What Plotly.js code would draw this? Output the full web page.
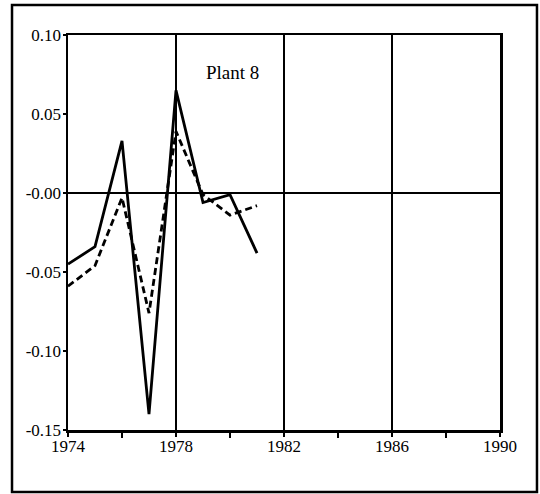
<!DOCTYPE html>
<html>
<head>
<meta charset="utf-8">
<script src="https://cdn.plot.ly/plotly-3.0.1.min.js"></script>
<style>html,body{margin:0;padding:0;background:#fff;}#chart{width:540px;height:494px;}</style>
</head>
<body>
<div id="chart"></div>
<script>
const years = [1974, 1975, 1976, 1977, 1978, 1979, 1980, 1981];
const actual = [-0.045, -0.034, 0.033, -0.140, 0.065, -0.006, -0.001, -0.038];
const fitted = [-0.059, -0.046, -0.003, -0.076, 0.039, -0.001, -0.014, -0.008];
const yTickVals = [0.10, 0.05, 0.00, -0.05, -0.10, -0.15];
const yTickText = ["0.10", "0.05", "-0.00", "-0.05", "-0.10", "-0.15"];
const xTickVals = [1974, 1978, 1982, 1986, 1990];
const panelLabel = "Plant 8";

const font = {family: "Liberation Serif, Times New Roman, serif", size: 17, color: "#000"};

const traces = [
  {x: years, y: actual, type: "scatter", mode: "lines", line: {color: "#000", width: 2.8}, hoverinfo: "skip"},
  {x: years, y: fitted, type: "scatter", mode: "lines", line: {color: "#000", width: 2.8, dash: "7px,4px"}, hoverinfo: "skip"}
];

const layout = {
  width: 540, height: 494,
  margin: {l: 68, r: 40, t: 35, b: 64, pad: 0},
  paper_bgcolor: "#fff", plot_bgcolor: "#fff",
  showlegend: false,
  font: font,
  xaxis: {
    range: [1974, 1990], tickvals: xTickVals, ticktext: xTickVals.map(String),
    showgrid: true, gridcolor: "#000", gridwidth: 2.5,
    showline: true, linecolor: "#000", linewidth: 2.5, mirror: true,
    ticks: "outside", ticklen: 4, tickwidth: 2, tickcolor: "#000",
    minor: {tickvals: [1976, 1980, 1984, 1988], ticks: "outside", ticklen: 5, tickwidth: 2, tickcolor: "#000", showgrid: false},
    zeroline: false, tickfont: font, ticklabelstandoff: -5
  },
  yaxis: {
    range: [-0.15, 0.10], tickvals: yTickVals, ticktext: yTickText,
    showgrid: false,
    showline: true, linecolor: "#000", linewidth: 2.5, mirror: true,
    ticks: "outside", ticklen: 3, tickwidth: 1.5, tickcolor: "#000",
    zeroline: true, zerolinecolor: "#000", zerolinewidth: 2.5,
    tickfont: font, ticklabelstandoff: -2
  },
  annotations: [
    {x: 1980.1, y: 0.076, xref: "x", yref: "y", text: panelLabel, showarrow: false,
     font: {family: font.family, size: 19, color: "#000"}}
  ],
  shapes: [
    {type: "rect", xref: "paper", yref: "paper", x0: -0.1296, x1: 1.0856, y0: -0.157, y1: 1.076,
     line: {color: "#000", width: 2.5}, fillcolor: "rgba(0,0,0,0)"}
  ]
};

Plotly.newPlot("chart", traces, layout, {displayModeBar: false, staticPlot: true});
</script>
</body>
</html>
